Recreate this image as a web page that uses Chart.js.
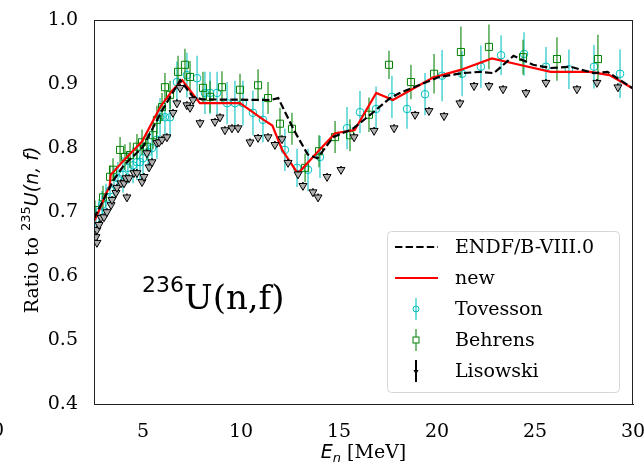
<!DOCTYPE html>
<html>
<head>
<meta charset="utf-8">
<script src="https://cdn.jsdelivr.net/npm/chart.js@4.4.1/dist/chart.umd.min.js"></script>
<style>
  html, body { margin: 0; padding: 0; background: #fff; }
  #wrap { width: 644px; height: 463px; }
</style>
</head>
<body>
<div id="wrap"><canvas id="ratioChart" width="644" height="463"></canvas></div>
<script>
// evaluations
const endfE = [2.5, 3.0, 3.5, 4.0, 5.0, 6.0, 6.9, 7.55, 8.0, 11.5, 11.9, 12.7, 13.4, 13.9, 14.7, 15.7, 16.6, 17.6, 18.1, 20.1, 21.3, 22.2, 22.9, 23.9, 24.9, 25.8, 26.8, 28.0, 28.7, 30.0];
const endfR = [0.690, 0.720, 0.750, 0.772, 0.802, 0.860, 0.906, 0.880, 0.876, 0.875, 0.878, 0.828, 0.790, 0.784, 0.817, 0.830, 0.852, 0.878, 0.886, 0.911, 0.917, 0.919, 0.917, 0.944, 0.930, 0.925, 0.927, 0.917, 0.919, 0.893];
const newE = [2.5, 2.8, 3.1, 3.3, 3.35, 4.0, 4.95, 5.9, 6.5, 7.0, 7.9, 9.95, 10.6, 11.1, 11.6, 12.1, 12.9, 14.0, 14.8, 15.8, 16.9, 17.75, 19.8, 21.2, 22.8, 24.2, 25.8, 27.8, 28.8, 30.0];
const newR = [0.685, 0.705, 0.728, 0.740, 0.758, 0.780, 0.810, 0.865, 0.890, 0.906, 0.870, 0.870, 0.856, 0.845, 0.835, 0.797, 0.760, 0.797, 0.823, 0.828, 0.886, 0.875, 0.910, 0.922, 0.940, 0.930, 0.919, 0.919, 0.914, 0.893];

// measurements
const tovE = [2.60, 2.76, 2.91, 3.11, 3.32, 3.52, 3.72, 3.98, 4.23, 4.49, 4.69, 4.85, 5.00, 5.26, 5.46, 5.71, 5.87, 6.12, 6.38, 6.73, 7.24, 7.76, 8.16, 8.42, 8.78, 9.29, 9.69, 10.10, 10.61, 11.12, 12.24, 12.86, 13.42, 14.03, 15.41, 16.07, 16.89, 17.70, 18.47, 19.39, 20.26, 21.28, 22.24, 23.27, 24.44, 25.56, 26.73, 28.01, 29.34];
const tovR = [0.688, 0.700, 0.711, 0.722, 0.734, 0.745, 0.753, 0.758, 0.769, 0.773, 0.778, 0.778, 0.784, 0.794, 0.800, 0.813, 0.848, 0.848, 0.848, 0.903, 0.914, 0.909, 0.886, 0.886, 0.886, 0.870, 0.870, 0.870, 0.855, 0.844, 0.797, 0.769, 0.766, 0.786, 0.831, 0.856, 0.861, 0.880, 0.861, 0.884, 0.913, 0.916, 0.927, 0.945, 0.947, 0.927, 0.923, 0.927, 0.916];
const tovErr = [0.020, 0.020, 0.022, 0.022, 0.025, 0.025, 0.025, 0.028, 0.025, 0.028, 0.028, 0.030, 0.028, 0.030, 0.030, 0.030, 0.030, 0.030, 0.032, 0.032, 0.035, 0.035, 0.033, 0.033, 0.033, 0.033, 0.035, 0.035, 0.035, 0.035, 0.033, 0.030, 0.033, 0.033, 0.033, 0.033, 0.035, 0.033, 0.031, 0.033, 0.040, 0.035, 0.033, 0.031, 0.034, 0.031, 0.031, 0.034, 0.038];
const behE = [2.55, 2.96, 3.32, 3.47, 3.83, 4.08, 4.34, 4.69, 4.95, 5.20, 5.51, 5.71, 5.97, 6.12, 6.38, 6.79, 7.14, 7.40, 8.06, 8.42, 9.03, 9.95, 10.87, 11.38, 11.99, 12.60, 13.27, 13.98, 14.80, 15.56, 16.53, 17.55, 18.67, 19.85, 21.22, 22.65, 24.39, 26.12, 28.21];
const behR = [0.703, 0.723, 0.755, 0.766, 0.797, 0.786, 0.789, 0.802, 0.809, 0.802, 0.820, 0.844, 0.864, 0.895, 0.883, 0.919, 0.930, 0.911, 0.894, 0.880, 0.895, 0.891, 0.898, 0.878, 0.838, 0.830, 0.769, 0.795, 0.817, 0.820, 0.852, 0.930, 0.903, 0.916, 0.950, 0.958, 0.942, 0.939, 0.939];
const behErr = [0.015, 0.018, 0.018, 0.018, 0.020, 0.020, 0.020, 0.020, 0.020, 0.020, 0.022, 0.022, 0.022, 0.022, 0.022, 0.025, 0.025, 0.025, 0.025, 0.025, 0.025, 0.025, 0.025, 0.025, 0.025, 0.025, 0.022, 0.025, 0.025, 0.025, 0.027, 0.022, 0.027, 0.031, 0.040, 0.035, 0.027, 0.034, 0.038];
const lisE = [2.60, 2.65, 2.65, 2.76, 2.86, 3.01, 3.16, 3.37, 3.42, 3.62, 3.67, 3.88, 4.03, 4.18, 4.13, 4.29, 4.54, 4.69, 4.95, 5.05, 5.20, 5.31, 5.46, 5.71, 5.82, 5.97, 6.22, 6.53, 6.73, 6.89, 7.24, 7.40, 7.55, 7.91, 8.67, 8.93, 9.18, 9.54, 9.85, 10.46, 10.87, 11.38, 11.73, 12.09, 12.40, 12.91, 13.16, 13.67, 13.93, 14.39, 15.10, 15.77, 16.79, 17.81, 18.88, 19.59, 20.36, 21.17, 21.89, 22.65, 23.37, 24.54, 25.56, 27.14, 28.16, 29.23];
const lisR = [0.661, 0.652, 0.672, 0.680, 0.691, 0.692, 0.700, 0.711, 0.719, 0.730, 0.738, 0.745, 0.745, 0.723, 0.753, 0.753, 0.761, 0.761, 0.747, 0.755, 0.792, 0.770, 0.778, 0.808, 0.809, 0.813, 0.817, 0.855, 0.870, 0.894, 0.867, 0.863, 0.875, 0.839, 0.841, 0.848, 0.828, 0.831, 0.831, 0.809, 0.816, 0.817, 0.805, 0.814, 0.777, 0.759, 0.741, 0.731, 0.723, 0.755, 0.766, 0.817, 0.827, 0.831, 0.852, 0.858, 0.850, 0.870, 0.897, 0.897, 0.892, 0.886, 0.902, 0.892, 0.902, 0.895];
const lisErr = lisR.map(() => 0.006);

const xTicks = [5, 10, 15, 20, 25, 30];
const yTicks = [0.4, 0.5, 0.6, 0.7, 0.8, 0.9, 1.0];

const SERIF = '"DejaVu Serif"';
const SANS = '"DejaVu Sans"';
const TOV_C = '#00bfbf';
const BEH_C = '#008000';

function pts(xs, ys) {
    return xs.map((x, i) => ({ x: x, y: ys[i] }));
}

// error bars drawn just before their dataset's markers
const errorBars = {
    id: 'errorBars',
    beforeDatasetDraw(chart, args) {
        const ds = chart.data.datasets[args.index];
        if (!ds.errs) return;
        const ctx = chart.ctx;
        const ys = chart.scales.y;
        ctx.save();
        ctx.strokeStyle = ds.errColor;
        ctx.lineWidth = 1.5;
        args.meta.data.forEach((p, i) => {
            const v = ds.data[i].y;
            ctx.beginPath();
            ctx.moveTo(p.x, ys.getPixelForValue(v - ds.errs[i]));
            ctx.lineTo(p.x, ys.getPixelForValue(v + ds.errs[i]));
            ctx.stroke();
        });
        ctx.restore();
    }
};

const decorations = {
    id: 'decorations',
    afterDraw(chart) {
        const ctx = chart.ctx;
        const a = chart.chartArea;
        ctx.save();
        // frame
        ctx.strokeStyle = '#222';
        ctx.lineWidth = 1;
        ctx.strokeRect(a.left + 0.5, a.top + 0.5, a.right - a.left - 1, a.bottom - a.top);

        // y title
        ctx.save();
        ctx.translate(31, 230);
        ctx.rotate(-Math.PI / 2);
        ctx.fillStyle = '#000';
        ctx.textBaseline = 'alphabetic';
        const p1 = 'Ratio to ', p2 = '235', p3 = 'U(n, f)';
        ctx.font = '19px ' + SERIF;
        const w1 = ctx.measureText(p1).width;
        ctx.font = '13px ' + SANS;
        const w2 = ctx.measureText(p2).width;
        ctx.font = 'italic 19px ' + SANS;
        const w3 = ctx.measureText(p3).width;
        let x0 = -(w1 + w2 + w3) / 2;
        ctx.font = '19px ' + SERIF;
        ctx.fillText(p1, x0, 7);
        ctx.font = '13px ' + SANS;
        ctx.fillText(p2, x0 + w1, -1);
        ctx.font = 'italic 19px ' + SANS;
        ctx.fillText(p3, x0 + w1 + w2, 7);
        ctx.restore();

        // x title
        ctx.fillStyle = '#000';
        ctx.font = 'italic 19px ' + SANS;
        const we = ctx.measureText('E').width;
        ctx.font = 'italic 13px ' + SANS;
        const wn = ctx.measureText('n').width;
        ctx.font = '19px ' + SERIF;
        const wm = ctx.measureText(' [MeV]').width;
        let xs = (a.left + a.right) / 2 - (we + wn + wm) / 2;
        ctx.font = 'italic 19px ' + SANS;
        ctx.fillText('E', xs, 458);
        ctx.font = 'italic 13px ' + SANS;
        ctx.fillText('n', xs + we, 462);
        ctx.font = '19px ' + SERIF;
        ctx.fillText(' [MeV]', xs + we + wn, 458);

        // stray label from neighbouring panel
        ctx.font = '19px ' + SERIF;
        ctx.textAlign = 'center';
        ctx.fillText('0', -2, 436);
        ctx.textAlign = 'left';

        // reaction label
        ctx.font = '22px ' + SANS;
        ctx.fillText('236', 142, 292);
        const w236 = ctx.measureText('236').width;
        ctx.font = '34px ' + SERIF;
        ctx.fillText('U(n,f)', 142 + w236, 309);

        // legend
        const lx = 387, ly = 231, lw = 232, lh = 161;
        ctx.beginPath();
        ctx.roundRect(lx + 0.5, ly + 0.5, lw, lh, 4);
        ctx.fillStyle = 'rgba(255,255,255,0.85)';
        ctx.fill();
        ctx.strokeStyle = '#d6d6d6';
        ctx.stroke();
        const rows = [247, 278, 309, 340, 371];
        const names = ['ENDF/B-VIII.0', 'new', 'Tovesson', 'Behrens', 'Lisowski'];
        const mx = 416;
        ctx.lineWidth = 2;
        ctx.strokeStyle = '#000';
        ctx.setLineDash([7.4, 3.2]);
        ctx.beginPath(); ctx.moveTo(395, rows[0]); ctx.lineTo(438, rows[0]); ctx.stroke();
        ctx.setLineDash([]);
        ctx.strokeStyle = '#ff0000';
        ctx.beginPath(); ctx.moveTo(395, rows[1]); ctx.lineTo(438, rows[1]); ctx.stroke();
        ctx.lineWidth = 1.5;
        ctx.strokeStyle = 'rgba(0,191,191,0.7)';
        ctx.beginPath(); ctx.moveTo(mx, rows[2] - 11); ctx.lineTo(mx, rows[2] + 11); ctx.stroke();
        ctx.lineWidth = 1;
        ctx.strokeStyle = TOV_C;
        ctx.beginPath(); ctx.arc(mx, rows[2], 3, 0, Math.PI * 2); ctx.stroke();
        ctx.lineWidth = 1.5;
        ctx.strokeStyle = 'rgba(0,128,0,0.7)';
        ctx.beginPath(); ctx.moveTo(mx, rows[3] - 11); ctx.lineTo(mx, rows[3] + 11); ctx.stroke();
        ctx.lineWidth = 1;
        ctx.strokeStyle = BEH_C;
        ctx.fillStyle = '#fff';
        ctx.fillRect(mx - 3, rows[3] - 3, 6, 6);
        ctx.strokeRect(mx - 3, rows[3] - 3, 6, 6);
        ctx.lineWidth = 2;
        ctx.strokeStyle = '#000';
        ctx.beginPath(); ctx.moveTo(mx, rows[4] - 11); ctx.lineTo(mx, rows[4] + 11); ctx.stroke();
        ctx.fillStyle = '#000';
        ctx.beginPath(); ctx.moveTo(mx - 2.5, rows[4] - 1); ctx.lineTo(mx + 2.5, rows[4] - 1); ctx.lineTo(mx, rows[4] + 4); ctx.closePath(); ctx.fill();
        ctx.fillStyle = '#000';
        ctx.font = '19px ' + SERIF;
        ctx.textBaseline = 'middle';
        names.forEach((n, i) => ctx.fillText(n, 455, rows[i] + 1));
        ctx.restore();
    }
};

const ctx = document.getElementById('ratioChart').getContext('2d');
const ratioChart = new Chart(ctx, {
    type: 'scatter',
    data: {
        datasets: [
            {
                label: 'Lisowski',
                data: pts(lisE, lisR),
                errs: lisErr,
                errColor: '#000',
                pointStyle: 'triangle',
                rotation: 180,
                radius: 4.6,
                borderColor: '#000',
                backgroundColor: '#b0b0b0',
                borderWidth: 1
            },
            {
                label: 'ENDF/B-VIII.0',
                type: 'line',
                data: pts(endfE, endfR),
                borderColor: '#000',
                borderWidth: 2.2,
                borderDash: [7.4, 3.2],
                pointRadius: 0,
                fill: false,
                tension: 0
            },
            {
                label: 'new',
                type: 'line',
                data: pts(newE, newR),
                borderColor: '#ff0000',
                borderWidth: 2.2,
                pointRadius: 0,
                fill: false,
                tension: 0
            },
            {
                label: 'Behrens',
                data: pts(behE, behR),
                errs: behErr,
                errColor: 'rgba(0,128,0,0.7)',
                pointStyle: 'rect',
                radius: 5,
                borderColor: BEH_C,
                backgroundColor: 'rgba(0,0,0,0)',
                borderWidth: 1
            },
            {
                label: 'Tovesson',
                data: pts(tovE, tovR),
                errs: tovErr,
                errColor: 'rgba(0,191,191,0.7)',
                pointStyle: 'circle',
                radius: 3.8,
                borderColor: TOV_C,
                backgroundColor: 'rgba(0,0,0,0)',
                borderWidth: 1
            }
        ]
    },
    options: {
        responsive: false,
        animation: false,
        events: [],
        layout: { padding: { top: 20, right: 11, left: 0, bottom: 0 } },
        plugins: {
            legend: { display: false },
            tooltip: { enabled: false }
        },
        scales: {
            x: {
                type: 'linear',
                min: 2.5,
                max: 30,
                afterBuildTicks: (axis) => { axis.ticks = xTicks.map(v => ({ value: v })); },
                afterFit: (axis) => { axis.height = 59; axis.paddingLeft = 0; axis.paddingRight = 0; },
                grid: { display: false, drawTicks: true, tickLength: 5, tickColor: '#222' },
                border: { display: true, color: '#222', width: 1 },
                ticks: {
                    color: '#000',
                    font: { family: 'DejaVu Serif', size: 19 },
                    padding: 12,
                    maxRotation: 0,
                    autoSkip: false
                }
            },
            y: {
                min: 0.4,
                max: 1.0,
                afterBuildTicks: (axis) => { axis.ticks = yTicks.map(v => ({ value: v })); },
                afterFit: (axis) => { axis.width = 94; axis.paddingTop = 0; axis.paddingBottom = 0; },
                grid: { display: false, drawTicks: true, tickLength: 5, tickColor: '#222' },
                border: { display: true, color: '#222', width: 1 },
                ticks: {
                    color: '#000',
                    font: { family: 'DejaVu Serif', size: 19 },
                    padding: 11,
                    callback: (v) => v.toFixed(1)
                }
            }
        }
    },
    plugins: [errorBars, decorations]
});
</script>
</body>
</html>
